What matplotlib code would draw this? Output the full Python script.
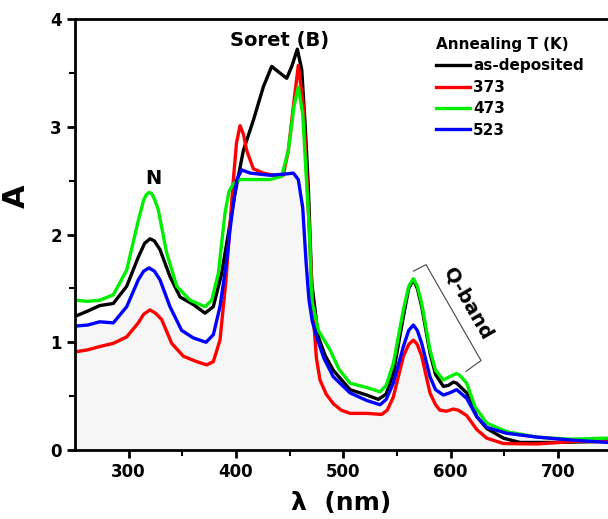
import matplotlib
matplotlib.use("Agg")
import matplotlib.pyplot as plt

# wavelength (nm) / absorbance readings for each film
wl_black = [250, 262, 273, 285.7, 298.2, 309, 315, 319.9, 324, 329.2, 338.5, 347.9, 360.3, 371.2, 378.9, 386.7, 392.9,
            399.1, 406.9, 416.2, 425.5, 433.3, 439.5, 447.3, 452, 457.2, 461.3, 464.4, 467.4, 470.6, 476.8, 483,
            490.7, 506.3, 521.8, 532.7, 540, 546.6, 556, 561, 565.3, 569, 573.1, 580.8, 586, 593.3, 598,
            602.6, 605.7, 615, 624.4, 633.7, 649.2, 664.7, 695.8, 746.7]
a_black = [1.24, 1.29, 1.34, 1.36, 1.52, 1.79, 1.92, 1.96, 1.94, 1.86, 1.61, 1.42, 1.35, 1.27, 1.33, 1.64, 2.01,
           2.38, 2.78, 3.06, 3.37, 3.56, 3.51, 3.45, 3.56, 3.72, 3.53, 3.03, 2.45, 1.55, 1.05, 0.88,
           0.74, 0.56, 0.51, 0.47, 0.52, 0.71, 1.24, 1.50, 1.58, 1.50, 1.33, 0.90, 0.70, 0.59, 0.60,
           0.63, 0.62, 0.53, 0.31, 0.20, 0.11, 0.07, 0.07, 0.08]

wl_red = [250, 262, 273, 285.7, 298.2, 309, 314, 319.9, 325, 330.8, 340.1, 351, 363.4, 372.7, 378.9, 385.1, 390.7,
          394.5, 397.5, 400.5, 403.8, 407, 410, 416.2, 425.5, 435, 444.1, 448.8, 453.5, 458.1, 462.8, 465.9,
          468.9, 472.1, 475, 478.3, 484, 490.7, 498, 506.3, 521.8, 535.8, 541, 546.6, 556, 561, 565.3,
          569, 573.1, 580.8, 586, 590, 596, 602.6, 607, 615, 624.4, 633.7, 649.2, 680.3, 711.3, 746.7]
a_red = [0.91, 0.93, 0.96, 0.99, 1.05, 1.18, 1.26, 1.30, 1.27, 1.21, 0.99, 0.87, 0.82, 0.79, 0.82, 1.02, 1.58,
         2.10, 2.50, 2.85, 3.01, 2.93, 2.78, 2.61, 2.57, 2.55, 2.55, 2.78, 3.19, 3.57, 3.19, 2.57,
         1.90, 1.24, 0.85, 0.65, 0.52, 0.43, 0.37, 0.34, 0.34, 0.33, 0.37, 0.49, 0.87, 0.98, 1.02,
         0.98, 0.87, 0.53, 0.42, 0.37, 0.36, 0.38, 0.37, 0.32, 0.19, 0.11, 0.06, 0.056, 0.077, 0.09]

wl_green = [250, 262, 273, 285.7, 298.2, 309, 314, 316.5, 319, 321.5, 324, 327.6, 335.4, 344.8, 357.2, 371.2, 377.4,
            383.6, 389.8, 393.5, 397.5, 403.8, 431.7, 442.6, 448.8, 454.1, 458.1, 462.2, 465.3, 468.4, 470.6,
            476.8, 487.6, 496, 506.3, 521.8, 534.3, 540, 546.6, 556, 561, 565.3, 569, 573.1, 580.8, 586,
            593.3, 599, 605.7, 609, 615, 622.8, 633.7, 652.3, 680.3, 711.3, 746.7]
a_green = [1.39, 1.38, 1.39, 1.44, 1.67, 2.13, 2.32, 2.37, 2.39, 2.38, 2.33, 2.23, 1.83, 1.52, 1.39, 1.33, 1.39,
           1.64, 2.20, 2.40, 2.47, 2.51, 2.51, 2.54, 2.78, 3.19, 3.37, 3.12, 2.57, 2.05, 1.39,
           1.11, 0.93, 0.75, 0.62, 0.58, 0.54, 0.60, 0.80, 1.30, 1.52, 1.59, 1.52, 1.36, 0.93, 0.74,
           0.65, 0.68, 0.71, 0.69, 0.62, 0.40, 0.25, 0.17, 0.12, 0.10, 0.11]

wl_blue = [250, 262, 273, 285.7, 298.2, 309, 314, 319, 324, 329.2, 338.5, 349.4, 360.3, 372.1, 378.9, 385.1, 391.4,
           394.5, 397.5, 400.7, 405.4, 413.1, 431.7, 445, 453.5, 458.1, 462.2, 465.3, 468, 471, 475.2,
           482, 490.7, 506.3, 521.8, 534.3, 540, 546.6, 556, 561, 565.3, 569, 573.1, 580.8, 586, 593.3,
           599, 605.7, 615, 624.4, 633.7, 652.3, 680.3, 711.3, 746.7]
a_blue = [1.15, 1.16, 1.19, 1.18, 1.33, 1.58, 1.66, 1.69, 1.66, 1.58, 1.33, 1.11, 1.04, 1.00, 1.07, 1.33, 1.76,
          2.05, 2.28, 2.51, 2.60, 2.57, 2.55, 2.56, 2.57, 2.51, 2.25, 1.75, 1.40, 1.20, 1.05,
          0.85, 0.68, 0.53, 0.46, 0.42, 0.47, 0.62, 0.96, 1.11, 1.16, 1.11, 0.99, 0.68, 0.56, 0.51,
          0.53, 0.56, 0.48, 0.31, 0.21, 0.155, 0.12, 0.093, 0.07]

labels = ["as-deposited", "373", "473", "523"]
colors = ["black", "#ff0000", "#00ee00", "#0000ff"]

fig = plt.figure(figsize=(6.08, 5.19), dpi=100)
ax = fig.add_axes([75/608, 69/519, 533/608, 431/519])

ax.fill_between(wl_blue, 0, a_blue, color="#f6f6f6", zorder=0)

series = [(wl_black, a_black), (wl_red, a_red), (wl_green, a_green), (wl_blue, a_blue)]
for (x, y), lab, c in zip(series, labels, colors):
    ax.plot(x, y, color=c, lw=2.4, label=lab, solid_joinstyle="round")

ax.set_xlim(250, 746.7)
ax.set_ylim(0, 4)
ax.set_xticks([300, 400, 500, 600, 700])
ax.set_xticks([350, 450, 550, 650], minor=True)
ax.set_yticks([0, 1, 2, 3, 4])
ax.set_yticks([0.5, 1.5, 2.5, 3.5], minor=True)
ax.spines["right"].set_visible(False)
for s in ["left", "bottom", "top"]:
    ax.spines[s].set_linewidth(2)
ax.tick_params(which="major", direction="out", length=6, width=2, labelsize=12)
ax.tick_params(which="minor", direction="out", length=4, width=1.5)
for t in ax.get_xticklabels() + ax.get_yticklabels():
    t.set_fontweight("bold")

ax.set_ylabel("A", fontsize=22, fontweight="bold")
ax.yaxis.set_label_coords(-0.082, 0.59)
ax.set_xlabel("λ  (nm)", fontsize=18, fontweight="bold", labelpad=7)

ax.text(440.6, 3.80, "Soret (B)", fontsize=14, fontweight="bold", ha="center", va="center")
ax.text(323, 2.52, "N", fontsize=14, fontweight="bold", ha="center", va="center")
ax.text(616.3, 1.355, "Q-band", fontsize=14, fontweight="bold", ha="center", va="center", rotation=-60)

# bracket for the Q-band
bx = [565.3, 577.1, 628.4, 614.4]
by = [1.66, 1.72, 0.83, 0.73]
ax.plot(bx, by, color="#444444", lw=0.8)

leg = ax.legend(loc="upper left", bbox_to_anchor=(0.652, 0.99), frameon=False,
                title="Annealing T (K)", handlelength=2.2, handletextpad=0.2,
                labelspacing=0.42, prop={"weight": "bold", "size": 11},
                title_fontproperties={"weight": "bold", "size": 11})
leg._legend_box.align = "left"

fig.savefig("out.png", dpi=100)
